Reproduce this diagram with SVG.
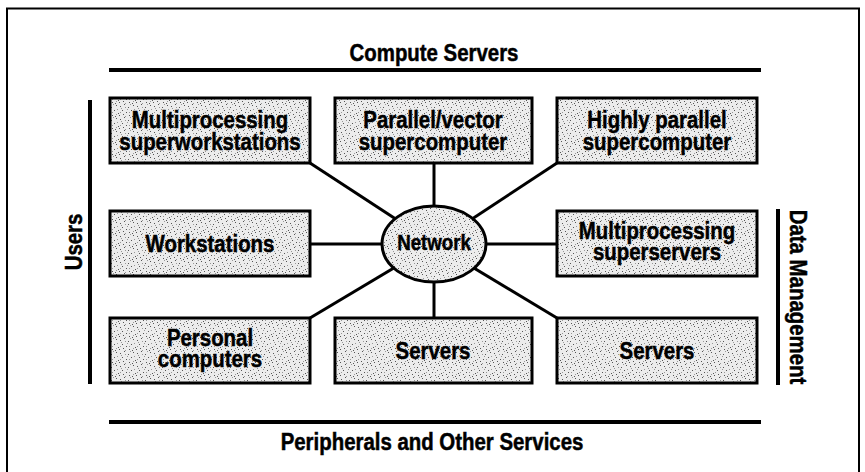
<svg xmlns="http://www.w3.org/2000/svg" width="865" height="472" viewBox="0 0 865 472">
<style>
.t{font-family:"Liberation Sans",Arial,sans-serif;font-weight:bold;font-size:24px;fill:#000;stroke:#000;stroke-width:0.5;text-anchor:middle}
.box{fill:url(#stip);stroke:#000;stroke-width:3}
.con{stroke:#000;stroke-width:3;fill:none}
.bar{stroke:#000;stroke-width:4;fill:none}
</style>
<defs>
<pattern id="stip" width="17" height="13" patternUnits="userSpaceOnUse">
<rect width="17" height="13" fill="#ececec"/>
<g fill="#555">
<rect x="1" y="2" width="1" height="1"/><rect x="5" y="0" width="1" height="1"/><rect x="9" y="3" width="1" height="1"/><rect x="14" y="1" width="1" height="1"/>
<rect x="3" y="6" width="1" height="1"/><rect x="7" y="8" width="1" height="1"/><rect x="12" y="6" width="1" height="1"/><rect x="16" y="9" width="1" height="1"/>
<rect x="0" y="11" width="1" height="1"/><rect x="4" y="10" width="1" height="1"/><rect x="10" y="11" width="1" height="1"/><rect x="13" y="12" width="1" height="1"/>
</g>
<g fill="#999">
<rect x="2" y="4" width="1" height="1"/><rect x="6" y="3" width="1" height="1"/><rect x="11" y="0" width="1" height="1"/><rect x="15" y="5" width="1" height="1"/>
<rect x="8" y="5" width="1" height="1"/><rect x="1" y="8" width="1" height="1"/><rect x="10" y="8" width="1" height="1"/><rect x="14" y="10" width="1" height="1"/>
<rect x="6" y="12" width="1" height="1"/>
</g>
</pattern>
</defs>
<rect width="865" height="472" fill="#fff"/>
<path d="M7 480 V8.5 H859 V480" fill="none" stroke="#000" stroke-width="2"/>

<g id="labels">
<text class="t" transform="translate(434,61) scale(.85,1)">Compute Servers</text>
<line class="bar" x1="109" y1="70" x2="761" y2="70"/>
<line class="bar" x1="109" y1="422" x2="761" y2="422"/>
<text class="t" transform="translate(432,450) scale(.85,1)">Peripherals and Other Services</text>
<line class="bar" x1="90" y1="100" x2="90" y2="384"/>
<text class="t" transform="translate(82,242) rotate(-90) scale(.85,1)">Users</text>
<line class="bar" x1="778" y1="209" x2="778" y2="385"/>
<text class="t" transform="translate(790,297) rotate(90) scale(.85,1)">Data Management</text>
</g>

<g id="connectors">
<line class="con" x1="310" y1="163" x2="434" y2="244"/>
<line class="con" x1="434" y1="163" x2="434" y2="244"/>
<line class="con" x1="557" y1="163" x2="434" y2="244"/>
<line class="con" x1="310" y1="244" x2="434" y2="244"/>
<line class="con" x1="557" y1="244" x2="434" y2="244"/>
<line class="con" x1="310" y1="318" x2="434" y2="244"/>
<line class="con" x1="434" y1="318" x2="434" y2="244"/>
<line class="con" x1="557" y1="318" x2="434" y2="244"/>
</g>

<g id="n-mpsw">
<rect class="box" x="110" y="98" width="200" height="65"/>
<text class="t" transform="translate(210,128) scale(.85,1)">Multiprocessing</text>
<text class="t" transform="translate(210,150) scale(.85,1)">superworkstations</text>
</g>
<g id="n-pvs">
<rect class="box" x="335" y="98" width="197" height="65"/>
<text class="t" transform="translate(433,128) scale(.85,1)">Parallel/vector</text>
<text class="t" transform="translate(433,150) scale(.85,1)">supercomputer</text>
</g>
<g id="n-hps">
<rect class="box" x="557" y="98" width="200" height="65"/>
<text class="t" transform="translate(657,128) scale(.85,1)">Highly parallel</text>
<text class="t" transform="translate(657,150) scale(.85,1)">supercomputer</text>
</g>
<g id="n-ws">
<rect class="box" x="110" y="211" width="200" height="65"/>
<text class="t" transform="translate(210,252) scale(.85,1)">Workstations</text>
</g>
<g id="n-net">
<ellipse cx="434" cy="244" rx="52" ry="38" fill="url(#stip)" stroke="#000" stroke-width="3"/>
<text class="t" transform="translate(434,250) scale(.85,1)" style="font-size:22px">Network</text>
</g>
<g id="n-mpss">
<rect class="box" x="557" y="211" width="200" height="65"/>
<text class="t" transform="translate(657,239) scale(.85,1)">Multiprocessing</text>
<text class="t" transform="translate(657,260) scale(.85,1)">superservers</text>
</g>
<g id="n-pc">
<rect class="box" x="110" y="318" width="200" height="65"/>
<text class="t" transform="translate(210,346) scale(.85,1)">Personal</text>
<text class="t" transform="translate(210,367) scale(.85,1)">computers</text>
</g>
<g id="n-srv1">
<rect class="box" x="335" y="318" width="197" height="65"/>
<text class="t" transform="translate(433,359) scale(.85,1)">Servers</text>
</g>
<g id="n-srv2">
<rect class="box" x="557" y="318" width="200" height="65"/>
<text class="t" transform="translate(657,359) scale(.85,1)">Servers</text>
</g>
</svg>
